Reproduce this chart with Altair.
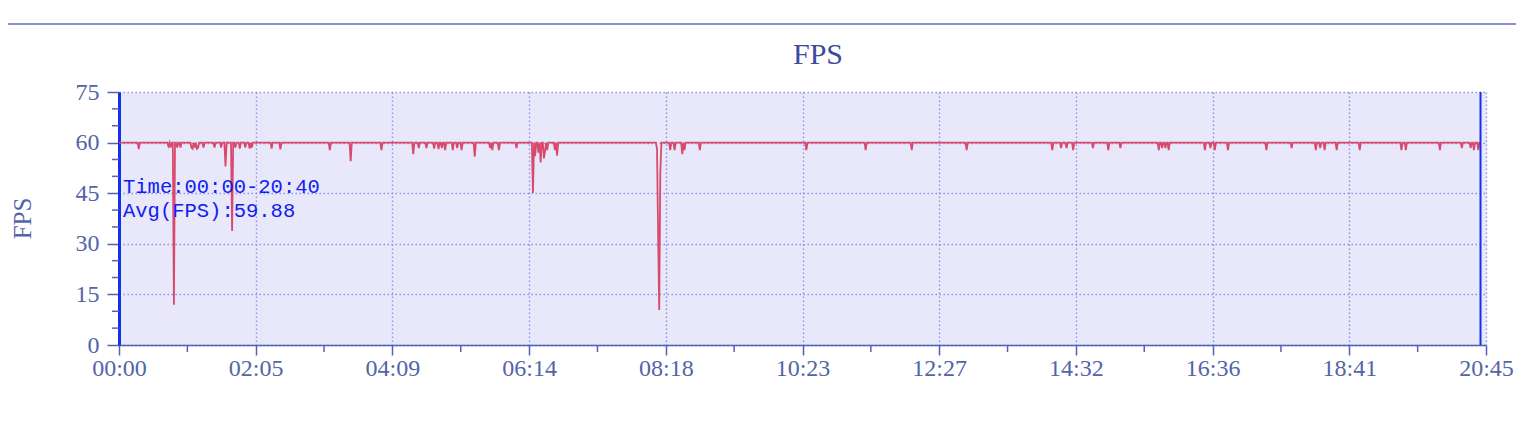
import altair as alt
import pandas as pd

# ---------------- data ----------------
TITLE = "FPS"
Y_TITLE = "FPS"
INFO_LINES = ["Time:00:00-20:40", "Avg(FPS):59.88"]
DURATION_S = 1240          # last sample (20:40)
AXIS_END_S = 1245          # axis end (20:45)
BASE_FPS = 60.0            # steady value of the trace

# frame drops: second of the session and the FPS reached there
DIP_T = [18, 45, 47, 50, 53, 56, 66, 67, 69, 71, 72, 77, 87, 93, 97, 103, 106,
         110, 115, 119, 121, 139, 147, 192, 211, 239, 268, 273, 280, 287, 291,
         294, 297, 304, 308, 312, 324, 338, 340, 346, 362, 377, 379, 382, 384,
         387, 388, 390, 397, 399, 490, 491, 492, 493, 502, 506, 513, 515, 529,
         626, 680, 722, 772, 850, 858, 863, 869, 887, 901, 912, 947, 950, 953,
         956, 989, 994, 998, 1010, 1045, 1068, 1090, 1094, 1098, 1109, 1130,
         1168, 1172, 1203, 1223, 1231, 1234, 1238]
DIP_V = [58.1, 59.0, 58.5, 11.9, 58.5, 58.5, 58.5, 58.2, 58.5, 58.2, 58.5, 58.5,
         58.5, 58.5, 52.9, 33.8, 58.5, 58.2, 58.5, 58.2, 58.5, 58.2, 58.0, 57.8,
         54.5, 57.8, 56.6, 58.4, 58.4, 58.2, 58.1, 58.4, 57.8, 57.8, 58.4, 57.8,
         55.8, 58.4, 57.8, 57.8, 58.4, 45.1, 56.0, 57.0, 54.1, 55.3, 57.5, 57.8,
         57.8, 56.1, 58.1, 33.0, 10.4, 51.0, 57.8, 57.8, 56.6, 57.8, 57.8, 57.8,
         57.8, 57.8, 57.8, 57.8, 58.4, 58.4, 57.8, 58.4, 57.8, 58.4, 57.8, 58.4,
         58.4, 57.8, 57.8, 58.4, 57.8, 57.8, 57.8, 58.4, 57.8, 58.4, 57.8, 57.8,
         57.8, 57.8, 57.8, 57.8, 58.4, 58.4, 57.8, 57.8]

X_TICKS = [0, 124.5, 249, 373.5, 498, 622.5, 747, 871.5, 996, 1120.5, 1245]
X_TICK_LABELS = ["00:00", "02:05", "04:09", "06:14", "08:18", "10:23",
                 "12:27", "14:32", "16:36", "18:41", "20:45"]
X_MINOR = [62.25, 186.75, 311.25, 435.75, 560.25, 684.75, 809.25, 933.75,
           1058.25, 1182.75]
Y_TICKS = [0, 15, 30, 45, 60, 75]
Y_MINOR = [5, 10, 20, 25, 35, 40, 50, 55, 65, 70]

# ---------------- build table ----------------
fps = {t: BASE_FPS for t in range(DURATION_S + 1)}
for t, v in zip(DIP_T, DIP_V):
    fps[t] = v
df = pd.DataFrame({"t": list(fps.keys()), "fps": list(fps.values())})

label_expr = "".join(f"datum.value == {v} ? '{l}' : "
                     for v, l in zip(X_TICKS, X_TICK_LABELS)) + "''"

W, H = 1367, 253
AXIS_C = "#5262B4"
LABEL_C = "#5464A8"
GRID_C = "#8A94E6"
LINE_C = "#D8496C"
BLUE = "#1530E8"
SERIF = "Liberation Serif"

xs = alt.Scale(domain=[0, AXIS_END_S], nice=False, zero=False)
ys = alt.Scale(domain=[0, 75], nice=False)

x_axis = alt.Axis(
    values=X_TICKS, labelExpr=label_expr, title=None, grid=True,
    gridColor=GRID_C, gridDash=[1.5, 2.5], gridWidth=1.4,
    domainColor=AXIS_C, domainWidth=1.5, tickColor=AXIS_C, tickWidth=1.5,
    tickSize=10, labelFont=SERIF, labelFontSize=24, labelColor=LABEL_C,
    labelPadding=1, labelFlush=False, labelOverlap=False)
y_axis = alt.Axis(
    values=Y_TICKS, title=Y_TITLE, grid=True,
    gridColor=GRID_C, gridDash=[1.5, 2.5], gridWidth=1.4,
    domainColor=BLUE, domainWidth=3, tickColor=AXIS_C, tickWidth=1.5,
    tickSize=12, labelFont=SERIF, labelFontSize=24, labelColor=LABEL_C,
    labelPadding=8, labelOverlap=False,
    titleFont=SERIF, titleFontSize=25, titleFontWeight="normal",
    titleColor=LABEL_C, titleAngle=270, titleX=-97, titleY=126,
    titleAlign="center", titleBaseline="middle")

line = alt.Chart(df).mark_line(color=LINE_C, strokeWidth=1.8).encode(
    x=alt.X("t:Q", scale=xs, axis=x_axis, title=None),
    y=alt.Y("fps:Q", scale=ys, axis=y_axis, title=Y_TITLE),
)

x_minor = alt.Chart(pd.DataFrame({"t": X_MINOR})).mark_rule(
    color=AXIS_C, strokeWidth=1.5).encode(
    x=alt.X("t:Q", scale=xs, axis=x_axis, title=None),
    y=alt.value(H), y2=alt.value(H + 7))

y_minor = alt.Chart(pd.DataFrame({"fps": Y_MINOR})).mark_rule(
    color=AXIS_C, strokeWidth=1.5).encode(
    y=alt.Y("fps:Q", scale=ys, axis=y_axis, title=Y_TITLE),
    x=alt.value(-7), x2=alt.value(0))

end_rule = alt.Chart(pd.DataFrame({"t": [DURATION_S]})).mark_rule(
    color=BLUE, strokeWidth=2).encode(
    x=alt.X("t:Q", scale=xs, axis=x_axis, title=None),
    y=alt.value(0), y2=alt.value(H))

info1 = alt.Chart(pd.DataFrame({"txt": [INFO_LINES[0]]})).mark_text(
    font="Liberation Mono", fontSize=20.5, color="#1020F0", align="left",
    baseline="alphabetic").encode(text="txt:N", x=alt.value(4), y=alt.value(101))
info2 = alt.Chart(pd.DataFrame({"txt": [INFO_LINES[1]]})).mark_text(
    font="Liberation Mono", fontSize=20.5, color="#1020F0", align="left",
    baseline="alphabetic").encode(text="txt:N", x=alt.value(4), y=alt.value(125))

title = alt.Chart(pd.DataFrame({"txt": [TITLE]})).mark_text(
    font=SERIF, fontSize=30, color="#3D4A9E", align="center",
    baseline="middle").encode(text="txt:N", x=alt.value(699), y=alt.value(-37))

top_line = alt.Chart(pd.DataFrame({"a": [0]})).mark_rule(
    color="#8A92CC", strokeWidth=2).encode(
    x=alt.value(-111), x2=alt.value(W + 30), y=alt.value(-68))

chart = alt.layer(line, x_minor, y_minor, end_rule, info1, info2, title,
                  top_line).properties(
    width=W, height=H,
    autosize=alt.AutoSizeParams(type="none"),
    padding={"left": 111, "top": 84, "right": 30, "bottom": 60},
    background="white",
).configure_view(fill="#E8E8FA", strokeOpacity=0)

chart.save("out.html", embed_options={"renderer": "svg", "actions": False})
